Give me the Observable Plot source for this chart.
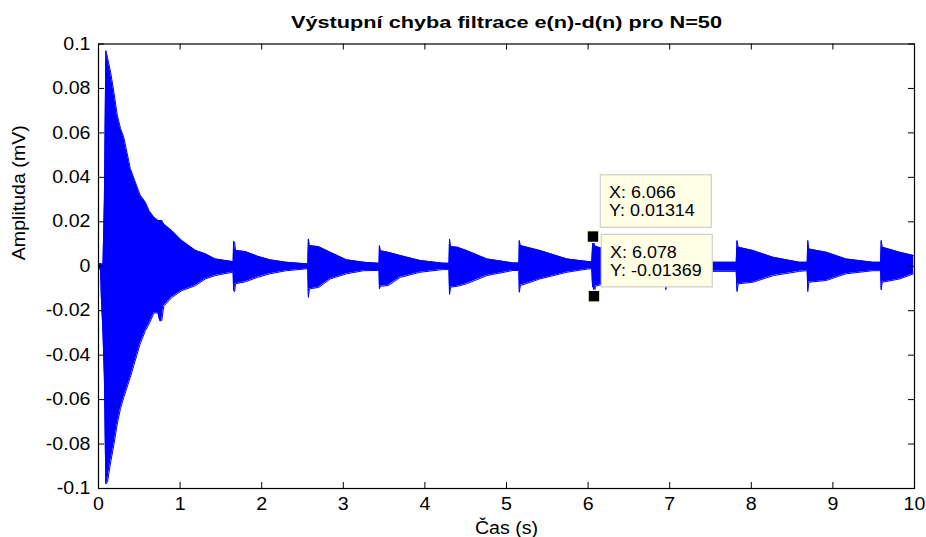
<!DOCTYPE html>
<html>
<head>
<meta charset="utf-8">
<script src="https://cdn.jsdelivr.net/npm/d3@7"></script>
<script src="https://cdn.jsdelivr.net/npm/@observablehq/plot@0.6"></script>
<style>
  html, body { margin: 0; padding: 0; background: #fff; }
  svg { display: block; }
</style>
</head>
<body>
<div id="chart"></div>
<script>
// ---- texts ----
const titleText = "Výstupní chyba filtrace e(n)-d(n) pro N=50";
const xLabel = "Čas (s)";
const yLabel = "Amplituda (mV)";

// ---- ticks ----
const xTicks = [0, 1, 2, 3, 4, 5, 6, 7, 8, 9, 10];
const yTicks = [-0.1, -0.08, -0.06, -0.04, -0.02, 0, 0.02, 0.04, 0.06, 0.08, 0.1];

// ---- signal envelope: time (s), upper and lower amplitude (mV) ----
const envT = [
  0.000, 0.025, 0.035, 0.055, 0.072, 0.090, 0.110, 0.150, 0.190, 0.230, 0.270, 0.310, 0.390, 0.510, 0.575, 0.620, 0.680, 0.730, 0.750, 0.775, 0.800, 0.900, 1.020, 1.190, 1.310, 1.430, 1.640,
  1.650, 1.656, 1.668, 1.680, 1.800, 1.950, 2.100, 2.300, 2.540,
  2.565, 2.572, 2.585, 2.700, 2.840, 3.040, 3.250, 3.420,
  3.438, 3.443, 3.455, 3.550, 3.700, 3.940, 4.220, 4.290,
  4.295, 4.302, 4.315, 4.400, 4.510, 4.760, 5.080, 5.150,
  5.152, 5.157, 5.170, 5.410, 5.740, 6.000, 6.040,
  6.045, 6.055, 6.066, 6.078, 6.090, 6.300, 6.600, 6.930,
  6.945, 6.952, 6.965, 7.200, 7.520, 7.800,
  7.815, 7.825, 7.840, 8.020, 8.270, 8.590, 8.680,
  8.685, 8.692, 8.705, 8.920, 9.160, 9.490, 9.580,
  9.585, 9.592, 9.605, 9.820, 9.990
];
const envHi = [
  0.0012, 0.0012, 0.0010, 0.0010, 0.0300, 0.0970, 0.0940, 0.0870, 0.0780, 0.0680, 0.0620, 0.0580, 0.0440, 0.0320, 0.0288, 0.0250, 0.0220, 0.0206, 0.0206, 0.0206, 0.0190, 0.0160, 0.0116, 0.0071, 0.0056, 0.0033, 0.0021,
  0.0021, 0.0113, 0.0108, 0.0071, 0.0066, 0.0045, 0.0029, 0.0018, 0.0011,
  0.0011, 0.0123, 0.0093, 0.0088, 0.0063, 0.0029, 0.0018, 0.0014,
  0.0014, 0.0093, 0.0070, 0.0063, 0.0048, 0.0026, 0.0014, 0.0013,
  0.0013, 0.0123, 0.0089, 0.0085, 0.0071, 0.0033, 0.0015, 0.0015,
  0.0015, 0.0116, 0.0093, 0.0071, 0.0033, 0.0021, 0.0021,
  0.0021, 0.0096, 0.01314, 0.0096, 0.0090, 0.0065, 0.0030, 0.0016,
  0.0016, 0.0100, 0.0085, 0.0050, 0.0018, 0.0018,
  0.0018, 0.0116, 0.0086, 0.0071, 0.0040, 0.0018, 0.0018,
  0.0018, 0.0116, 0.0078, 0.0063, 0.0033, 0.0018, 0.0018,
  0.0018, 0.0116, 0.0086, 0.0063, 0.0048
];
const envLo = [
  0.0008, -0.0020, -0.0140, -0.0300, -0.0500, -0.0980, -0.0970, -0.0880, -0.0800, -0.0710, -0.0640, -0.0590, -0.0500, -0.0350, -0.0290, -0.0260, -0.0210, -0.0210, -0.0245, -0.0245, -0.0180, -0.0140, -0.0110, -0.0087, -0.0057, -0.0042, -0.0027,
  -0.0026, -0.0110, -0.0115, -0.0079, -0.0070, -0.0050, -0.0034, -0.0020, -0.0012,
  -0.0012, -0.0140, -0.0102, -0.0095, -0.0057, -0.0034, -0.0020, -0.0019,
  -0.0019, -0.0102, -0.0090, -0.0087, -0.0050, -0.0027, -0.0015, -0.0015,
  -0.0015, -0.0127, -0.0094, -0.0090, -0.0079, -0.0042, -0.0019, -0.0019,
  -0.0019, -0.0117, -0.0087, -0.0057, -0.0027, -0.0012, -0.0012,
  -0.0012, -0.0094, -0.0094, -0.01369, -0.0090, -0.0068, -0.0034, -0.0020,
  -0.0020, -0.0105, -0.0085, -0.0055, -0.0023, -0.0023,
  -0.0023, -0.0114, -0.0079, -0.0072, -0.0042, -0.0023, -0.0020,
  -0.0020, -0.0114, -0.0072, -0.0064, -0.0034, -0.0020, -0.0020,
  -0.0020, -0.0106, -0.0072, -0.0057, -0.0034
];

// ---- data tips ----
const tipX = [6.066, 6.078];
const tipY = [0.01314, -0.01369];
const tipXLabel = ["X: 6.066", "X: 6.078"];
const tipYLabel = ["Y: 0.01314", "Y: -0.01369"];

// ---- build ----
const W = 926, H = 537;
const mL = 98, mR = 12, mT = 43.5, mB = 49;
const innerW = W - mL - mR, innerH = H - mT - mB;
const FONT = "'Liberation Sans', Arial, Helvetica, sans-serif";
const blue = "#0000ff";

const env = envT.map((t, i) => ({t, hi: envHi[i], lo: envLo[i]}));
const tips = tipX.map((x, i) => ({x, y: tipY[i]}));
const yFmt = d => String(+d.toFixed(2));

const chart = Plot.plot({
  width: W, height: H,
  marginLeft: mL, marginRight: mR, marginTop: mT, marginBottom: mB,
  x: {domain: [0, 10]},
  y: {domain: [-0.1, 0.1]},
  style: {fontFamily: FONT, fontSize: "17.5px", color: "#000", background: "#fff", overflow: "visible"},
  marks: [
    Plot.areaY(env, {x: "t", y1: "lo", y2: "hi", fill: blue}),
    Plot.lineY(env, {x: "t", y: "hi", stroke: blue, strokeWidth: 1}),
    Plot.lineY(env, {x: "t", y: "lo", stroke: blue, strokeWidth: 1}),
    Plot.frame({stroke: "#000", strokeWidth: 1.2}),
    Plot.tickX(xTicks, {x: d => d, insetTop: innerH - 6, stroke: "#000"}),
    Plot.tickX(xTicks, {x: d => d, insetBottom: innerH - 6, stroke: "#000"}),
    Plot.tickY(yTicks, {y: d => d, insetRight: innerW - 6, stroke: "#000"}),
    Plot.tickY(yTicks, {y: d => d, insetLeft: innerW - 6, stroke: "#000"}),
    Plot.axisX(xTicks, {tickSize: 0, tickPadding: 9.5, label: null, fontSize: 17.5}),
    Plot.axisY(yTicks, {tickSize: 0, tickPadding: 8, tickFormat: yFmt, label: null, fontSize: 17.5}),
    Plot.text([titleText], {text: d => d, frameAnchor: "top", lineAnchor: "middle", dy: -21.3, fontWeight: "bold", fontSize: 17}),
    Plot.text([xLabel], {text: d => d, frameAnchor: "bottom", lineAnchor: "middle", dy: 39.5, fontSize: 17.5}),
    Plot.text([yLabel], {text: d => d, frameAnchor: "left", lineAnchor: "middle", rotate: -90, dx: -79.5, dy: -6, fontSize: 17.5})
  ]
});

document.getElementById("chart").appendChild(chart);

// data tips (marker squares and boxes), positioned through the plot's own scales
const sx = chart.scale("x"), sy = chart.scale("y");
const svg = d3.select(chart);
const g = svg.append("g").attr("class", "datatips");
tips.forEach((d, i) => {
  const px = sx.apply(d.x), py = sy.apply(d.y);
  const bx = px + 7.3, by = py - 61.8;
  g.append("rect")
    .attr("x", bx).attr("y", by).attr("width", 111).attr("height", 52.5)
    .attr("fill", "#ffffe6").attr("stroke", "#cfcfc4").attr("stroke-width", 1.2);
  g.append("text").attr("x", bx + 8.8).attr("y", by + 23.2)
    .attr("text-anchor", "start")
    .attr("font-family", FONT).attr("font-size", 16).attr("fill", "#000")
    .text(tipXLabel[i]);
  g.append("text").attr("x", bx + 8.8).attr("y", by + 41.7)
    .attr("text-anchor", "start")
    .attr("font-family", FONT).attr("font-size", 16).attr("fill", "#000")
    .text(tipYLabel[i]);
});
tips.forEach(d => {
  const px = sx.apply(d.x), py = sy.apply(d.y);
  g.append("rect")
    .attr("x", px - 6.5).attr("y", py - 6.5).attr("width", 13).attr("height", 13)
    .attr("fill", "#ffffe0");
  g.append("rect")
    .attr("x", px - 5.2).attr("y", py - 5.2).attr("width", 10.4).attr("height", 10.4)
    .attr("fill", "#000");
});

// the reference text is horizontally wider than the font: stretch glyphs
chart.querySelectorAll("text").forEach(t => {
  const len = t.getComputedTextLength();
  if (!len) return;
  const target = t.textContent === titleText ? 431 : len * 1.12;
  t.setAttribute("textLength", target);
  t.setAttribute("lengthAdjust", "spacingAndGlyphs");
});
</script>
</body>
</html>
